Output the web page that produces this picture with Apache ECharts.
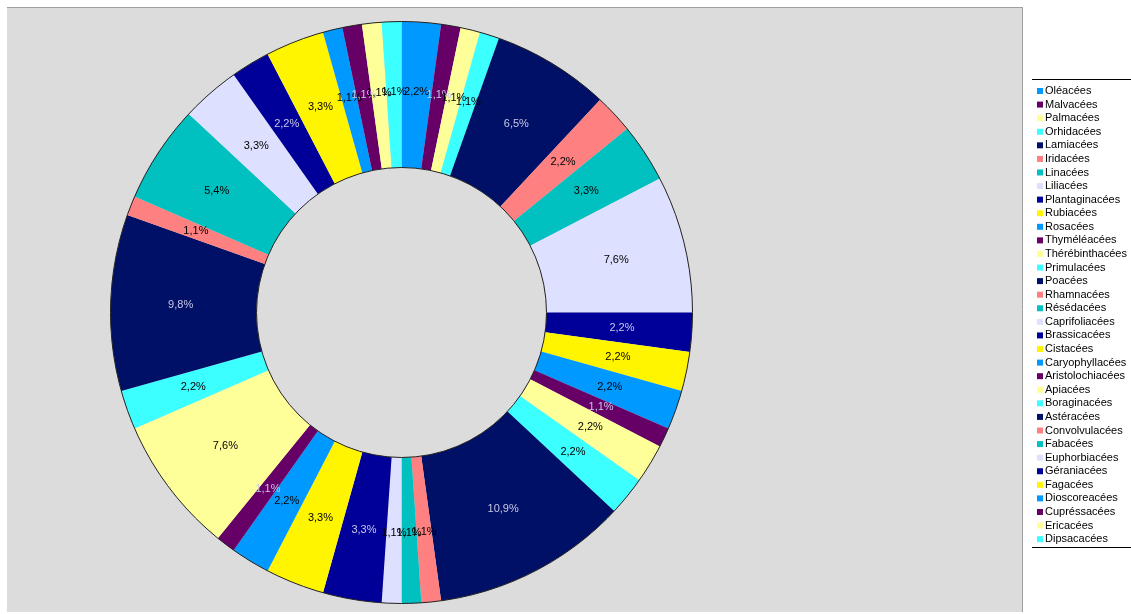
<!DOCTYPE html>
<html>
<head>
<meta charset="utf-8">
<script src="https://cdn.jsdelivr.net/npm/echarts@6/dist/echarts.min.js"></script>
<style>
html,body{margin:0;padding:0;background:#fff;}
#chart{width:1131px;height:614px;}
</style>
</head>
<body>
<div id="chart"></div>
<script>
const families = ["Oléacées","Malvacées","Palmacées","Orhidacées","Lamiacées","Iridacées","Linacées","Liliacées","Plantaginacées","Rubiacées","Rosacées","Thyméléacées","Thérébinthacées","Primulacées","Poacées","Rhamnacées","Résédacées","Caprifoliacées","Brassicacées","Cistacées","Caryophyllacées","Aristolochiacées","Apiacées","Boraginacées","Astéracées","Convolvulacées","Fabacées","Euphorbiacées","Géraniacées","Fagacées","Dioscoreacées","Cupréssacées","Ericacées","Dipsacacées"];
const counts = [2,1,1,1,6,2,3,7,2,2,2,1,2,2,10,1,1,1,3,3,2,1,7,2,9,1,5,3,2,3,1,1,1,1];

const palette = ["#0099FF","#660066","#FFFF99","#3CFFFF","#001066","#FF8080","#00C0C0","#DDE1FF","#000099","#FFF500"];
const darkColors = {"#660066":1,"#001066":1,"#000099":1};
const total = counts.reduce((a,b)=>a+b,0);

const data = families.map((name,i)=>{
  const c = palette[i % palette.length];
  return {
    name: name,
    value: counts[i],
    itemStyle: {color: c},
    label: {color: darkColors[c] ? "#C8C8E6" : "#000000"}
  };
});

const chart = echarts.init(document.getElementById('chart'), null, {renderer:'canvas'});
chart.setOption({
  animation: false,
  backgroundColor: '#ffffff',
  graphic: [
    {type:'rect', z:-10, shape:{x:7,y:7,width:1015,height:605}, style:{fill:'#DCDCDC', stroke:null}},
    {type:'line', z:-9, shape:{x1:7,y1:7.5,x2:1022,y2:7.5}, style:{stroke:'#A0A0A0', lineWidth:1}},
    {type:'line', z:-9, shape:{x1:1022.5,y1:7,x2:1022.5,y2:612}, style:{stroke:'#A0A0A0', lineWidth:1}},
    {type:'line', shape:{x1:1032,y1:79.5,x2:1131,y2:79.5}, style:{stroke:'#000', lineWidth:1}},
    {type:'line', shape:{x1:1032,y1:547.5,x2:1131,y2:547.5}, style:{stroke:'#000', lineWidth:1}}
  ],
  legend: {
    orient: 'vertical',
    left: 1032,
    top: 80,
    icon: 'rect',
    itemWidth: 6,
    itemHeight: 6,
    itemGap: 1.58,
    selectedMode: false,
    textStyle: {fontFamily:'Liberation Sans', fontSize:11, color:'#000', lineHeight:12, padding:[0,0,0,-3]},
    data: families
  },
  series: [
    {
      type: 'pie',
      center: [401.5, 312.5],
      radius: [145, 291],
      startAngle: 90,
      clockwise: true,
      avoidLabelOverlap: false,
      labelLayout: {hideOverlap: false},
      itemStyle: {borderWidth: 0},
      emphasis: {disabled: true},
      label: {
        show: true,
        position: 'inside',
        fontFamily: 'Liberation Sans',
        fontSize: 11,
        formatter: p => (p.value / total * 100).toFixed(1).replace('.', ',') + '%'
      },
      labelLine: {show:false},
      data: data
    },
    {
      type: 'pie',
      center: [401.5, 312.5],
      radius: [145, 291],
      silent: true,
      z: 3,
      label: {show:false},
      labelLine: {show:false},
      itemStyle: {color:'rgba(0,0,0,0)', borderColor:'#222', borderWidth:1},
      emphasis: {disabled:true},
      data: [{value:1, name:'__outline'}]
    }
  ]
});
</script>
</body>
</html>
